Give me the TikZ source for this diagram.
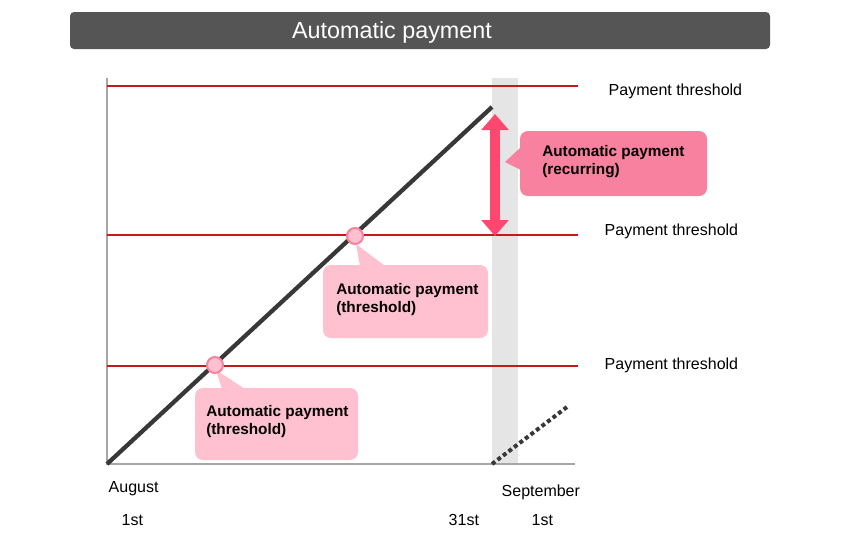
\documentclass[tikz,border=0pt]{standalone}
\usepackage{fontspec}
\setmainfont{Liberation Sans}
\usetikzlibrary{arrows.meta}
\begin{document}
\begin{tikzpicture}[x=0.75pt,y=-0.75pt,
  thr/.style={draw=red!75!black!90, line width=1.3pt},
  lbl/.style={anchor=west, font=\fontsize{12}{14}\selectfont},
  call/.style={font=\bfseries\fontsize{11.5}{13.5}\selectfont, align=left, anchor=north west, inner sep=0pt}]
\definecolor{pinkA}{HTML}{FFC0D0}
\definecolor{pinkB}{HTML}{F7819E}
\definecolor{arr}{HTML}{FF4770}
\useasboundingbox (0,0) rectangle (853,537);
\fill[white] (0,0) rectangle (853,537);
% title
\fill[rounded corners=3pt, fill={rgb,255:red,85;green,85;blue,85}] (70,12) rectangle (770,49);
\node[text=white, font=\fontsize{17.5}{19}\selectfont] (title) at (392,32) {Automatic payment};
% band
\fill[gray!20] (492,78) rectangle (518,464);
% axes
\coordinate (o) at (107,464);
\draw[gray!70, line width=1.2pt] (107,78) -- (o) -- (575,464);
% thresholds
\draw[thr] (107,86) -- (578,86);
\draw[thr] (107,235) -- (578,235);
\draw[thr] (107,366) -- (578,366);
% diagonal
\coordinate (top) at (492,107);
\draw[black!78, line width=3.2pt] (o) -- (top);
\coordinate (d1) at (492,464); \coordinate (d2) at (567,407);
\draw[black!78, line width=3pt, dash pattern=on 3pt off 2.2pt] (d1) -- (d2);
% arrow
\coordinate (a1) at (495,114); \coordinate (a2) at (495,236);
\draw[arr, line width=7pt, {Triangle[width=20pt,length=12pt]}-{Triangle[width=20pt,length=12pt]}] (a1) -- (a2);
% callouts
\fill[pinkB, rounded corners=6pt] (520,131) rectangle (707,196);
\fill[pinkB] (521,147) -- (505,162) -- (521,170) -- cycle;
\node[call] (c0) at (542,145) {Automatic payment\\(recurring)};
\fill[pinkA, rounded corners=6pt] (323,265) rectangle (488,338);
\fill[pinkA] (360,266) -- (356,244) -- (385,266) -- cycle;
\node[call] (c1) at (336,283) {Automatic payment\\(threshold)};
\fill[pinkA, rounded corners=6pt] (195,388) rectangle (358,460);
\fill[pinkA] (222,389) -- (216,370) -- (245,389) -- cycle;
\node[call] (c2) at (206,405) {Automatic payment\\(threshold)};
% dots
\node[circle, fill=pinkA, draw=pinkB, line width=1.5pt, minimum size=12pt, inner sep=0pt] (p1) at (355,236) {};
\node[circle, fill=pinkA, draw=pinkB, line width=1.5pt, minimum size=12pt, inner sep=0pt] (p2) at (215,365) {};
% labels
\node[lbl] (l1) at (604,91) {Payment threshold};
\node[lbl] (l2) at (600,231) {Payment threshold};
\node[lbl] (l3) at (600,365) {Payment threshold};
\node[lbl] (x1) at (104,489) {August};
\node[lbl] (x2) at (117,520) {1st};
\node[lbl] (x3) at (497,492) {September};
\node[lbl] (x4) at (444,520) {31st};
\node[lbl] (x5) at (527,520) {1st};
\end{tikzpicture}
\end{document}
